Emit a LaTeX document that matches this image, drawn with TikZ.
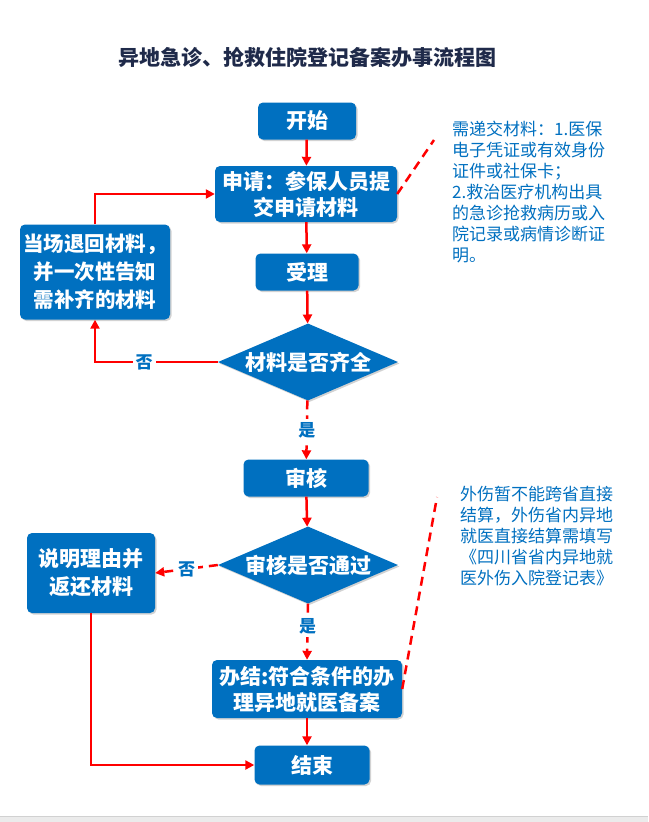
\documentclass[tikz,border=0pt]{standalone}
\usepackage{fontspec}
\setmainfont{Noto Sans CJK SC}
\usetikzlibrary{shapes.geometric,arrows.meta,shadows}
\definecolor{boxblue}{HTML}{0070C0}
\definecolor{titlenavy}{HTML}{1F2A4A}
\definecolor{noteblue}{HTML}{0070C0}
\tikzset{
    box/.style={fill=boxblue,rounded corners=5pt,text=white,align=center,inner sep=0pt,
        font=\bfseries\fontsize{21}{26}\selectfont,
        drop shadow={shadow xshift=1.5pt,shadow yshift=-1.5pt,opacity=0.35,fill=gray}},
    decide/.style={diamond,aspect=2.34,fill=boxblue,text=white,inner sep=0pt,
        minimum width=180pt,minimum height=77pt,font=\bfseries\fontsize{21}{26}\selectfont,
        drop shadow={shadow xshift=1.5pt,shadow yshift=-1.5pt,opacity=0.35,fill=gray}},
    flow/.style={draw=red,line width=2.5pt,-{Triangle[length=9pt,width=9pt]}},
    flowdash/.style={flow,dash pattern=on 9pt off 6pt},
    noteline/.style={draw=red,line width=2.5pt,dash pattern=on 9pt off 6pt},
    yesno/.style={fill=white,text=noteblue,inner sep=3pt,font=\bfseries\fontsize{17}{17}\selectfont},
    notetext/.style={anchor=north west,text=noteblue,align=left,inner sep=0pt,
        font=\fontsize{17}{21}\selectfont}
}

\begin{document}
\begin{tikzpicture}[x=1pt,y=-1pt]
    \useasboundingbox (0,0) rectangle (648,822);
    \fill[white] (0,0) rectangle (648,822);
    \fill[black!8] (0,816) rectangle (648,822);
    \draw[black!18,line width=0.8pt] (0,816) -- (648,816);

    \node[text=titlenavy,font=\bfseries\fontsize{21}{24}\selectfont] (title) at (307,57) {异地急诊、抢救住院登记备案办事流程图};

    % main column
    \node[box,minimum width=98pt,minimum height=37pt] (start) at (307,121) {开始};
    \node[box,minimum width=182pt,minimum height=56pt] (apply) at (306,194) {申请：参保人员提\\交申请材料};
    \node[box,minimum width=103pt,minimum height=37pt] (accept) at (307,272) {受理};
    \node[decide] (check1) at (308,362) {材料是否齐全};
    \node[box,minimum width=125pt,minimum height=37pt] (review) at (306,478) {审核};
    \node[decide] (check2) at (308,565) {审核是否通过};
    \node[box,minimum width=190pt,minimum height=58pt] (done) at (307,689) {办结:符合条件的办\\理异地就医备案};
    \node[box,minimum width=115pt,minimum height=39pt] (finish) at (312,765) {结束};

    % side boxes
    \node[box,minimum width=150pt,minimum height=95pt,font=\bfseries\fontsize{20.5}{28}\selectfont] (back) at (95,272) {当场退回材料，\\并一次性告知\\需补齐的材料};
    \node[box,minimum width=128pt,minimum height=80pt,font=\bfseries\fontsize{21}{28}\selectfont] (reject) at (91,573) {说明理由并\\返还材料};

    % notes
    \node[notetext] (note1) at (452,121) {需递交材料：1.医保\\电子凭证或有效身份\\证件或社保卡；\\2.救治医疗机构出具\\的急诊抢救病历或入\\院记录或病情诊断证\\明。};
    \node[notetext] (note2) at (460,486) {外伤暂不能跨省直接\\结算，外伤省内异地\\就医直接结算需填写\\《四川省省内异地就\\医外伤入院登记表》};
    \coordinate (tip1) at (434,140);
    \coordinate (tip2) at (437,497);

    % connectors
    \draw[flow] (start) -- (apply);
    \draw[flow] (apply) -- (accept);
    \draw[flow] (accept) -- (check1);
    \draw[flowdash] (check1) -- node[yesno] {是} (review);
    \draw[flow] (check1.west) -- node[yesno,pos=0.6] {否} (back.south |- check1.west) -- (back.south);
    \draw[flow] (back.north) |- (apply.west);
    \draw[flow] (review) -- (check2);
    \draw[flowdash] (check2.west) -- node[yesno] {否} (reject.east);
    \draw[flowdash] (check2.south) -- node[yesno,pos=0.4] {是} (done.north);
    \draw[flow] (done.south) -- (done.south |- finish.north);
    \draw[flow] (reject.south) |- (finish.west);
    \draw[noteline] (apply.east) -- (tip1);
    \draw[noteline] (done.east) -- (tip2);
\end{tikzpicture}
\end{document}
